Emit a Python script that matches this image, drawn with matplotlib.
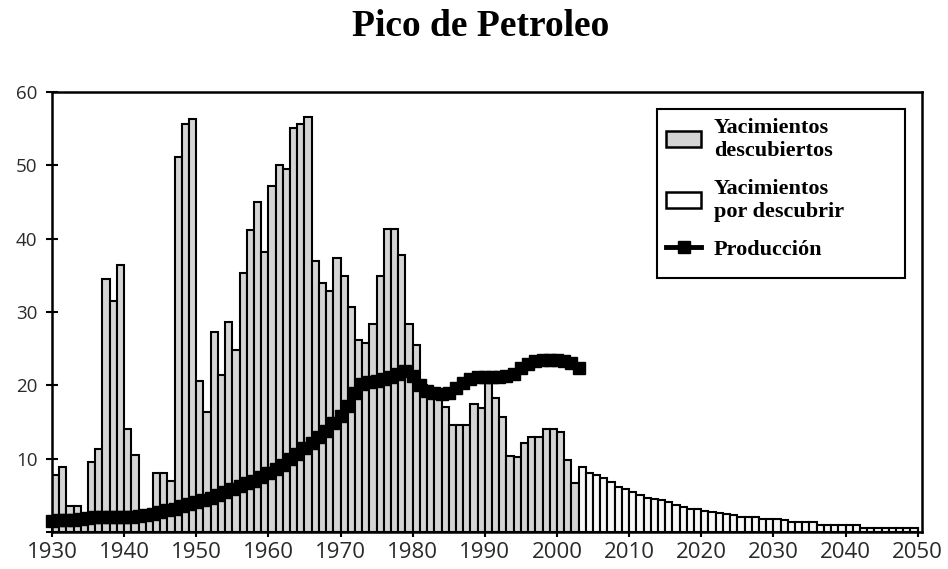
import matplotlib
matplotlib.use("Agg")
import matplotlib.pyplot as plt
from matplotlib.patches import Patch, Rectangle
from matplotlib.lines import Line2D
from matplotlib.transforms import ScaledTranslation

# ---- data ----
disc_years = list(range(1930, 2003))
disc_values = [
    7.8, 8.8, 3.5, 3.5, 2.0, 9.5, 11.3, 34.5, 31.5, 36.4,    # 1930s
    14.0, 10.5, 2.0, 2.0, 8.0, 8.0, 7.0, 51.2, 55.6, 56.3,   # 1940s
    20.6, 16.4, 27.3, 21.4, 28.6, 24.8, 35.3, 41.2, 45.0, 38.2,  # 1950s
    47.2, 50.0, 49.5, 55.1, 55.6, 56.6, 37.0, 34.0, 32.9, 37.4,  # 1960s
    34.9, 30.7, 26.2, 25.8, 28.3, 34.9, 41.3, 41.3, 37.8, 28.3,  # 1970s
    25.5, 20.0, 19.0, 18.5, 17.0, 14.6, 14.6, 14.6, 17.5, 16.9,  # 1980s
    20.3, 18.3, 15.7, 10.3, 10.2, 12.2, 13.0, 13.0, 14.0, 14.0,  # 1990s
    13.7, 9.8, 6.7,                                              # 2000-2002
]
undisc_years = list(range(2003, 2050))
undisc_values = [
    8.8, 8.1, 7.8, 7.4, 6.8, 6.2, 5.8,                      # 2003-2009
    5.4, 5.05, 4.7, 4.45, 4.3, 4.1, 3.7, 3.4, 3.2, 3.1,     # 2010s
    2.9, 2.7, 2.6, 2.4, 2.3, 2.1, 2.0, 2.0, 1.8, 1.75,      # 2020s
    1.75, 1.65, 1.4, 1.4, 1.4, 1.4, 0.95, 0.95, 0.95, 0.95, # 2030s
    0.95, 0.95, 0.5, 0.5, 0.5, 0.5, 0.5, 0.5, 0.5, 0.5,     # 2040s
]
prod_years = list(range(1930, 2004))
prod_values = [
    1.5, 1.6, 1.6, 1.7, 1.8, 1.9, 2.0, 2.0, 2.1, 2.1,
    2.1, 2.1, 2.2, 2.3, 2.5, 2.7, 3.0, 3.2, 3.5, 3.8,
    4.1, 4.4, 4.7, 5.0, 5.4, 5.9, 6.3, 6.7, 7.0, 7.5,
    8.0, 8.6, 9.2, 9.9, 10.6, 11.4, 12.2, 13.0, 13.8, 14.8,
    15.8, 17.2, 19.0, 20.2, 20.5, 20.6, 20.9, 21.2, 21.6, 21.9,
    21.3, 20.0, 19.2, 18.9, 18.8, 18.9, 19.6, 20.3, 20.9, 21.1,
    21.2, 21.2, 21.2, 21.3, 21.6, 22.3, 22.9, 23.3, 23.5, 23.5,
    23.5, 23.3, 23.0, 22.4,
]
x_ticks = list(range(1930, 2051, 10))
y_ticks = [0, 10, 20, 30, 40, 50, 60]
y_ticklabels = ["", "10", "20", "30", "40", "50", "60"]

title = "Pico de Petroleo"
lbl_disc = "Yacimientos\ndescubiertos"
lbl_undisc = "Yacimientos\npor descubrir"
lbl_prod = "Producción"

# ---- style ----
serif = ["Liberation Serif", "DejaVu Serif"]
sans = ["Open Sans", "DejaVu Sans"]
gray_fill = "#d4d4d4"
white_fill = "#f7f7f7"
label_color = "#2a2a2a"

fig = plt.figure(figsize=(9.48, 5.69), dpi=100)
ax = fig.add_axes([52 / 948, 1 - 532 / 569, (922 - 52) / 948, (532 - 92) / 569])

ax.bar(disc_years, disc_values, width=1.0, align="edge", color=gray_fill,
       edgecolor="black", linewidth=1.5, zorder=2)
ax.bar(undisc_years, undisc_values, width=1.0, align="edge", color=white_fill,
       edgecolor="black", linewidth=1.5, zorder=2)
ax.plot(prod_years, prod_values, color="black", linewidth=5, marker="s",
        markersize=8.5, markerfacecolor="black", markeredgecolor="black",
        zorder=3, clip_on=False)

ax.set_xlim(1930, 2050.6)
ax.set_ylim(0, 60)
ax.set_xticks(x_ticks)
ax.set_yticks(y_ticks)
ax.set_yticklabels(y_ticklabels)
for lab in ax.get_xticklabels():
    lab.set_fontfamily(sans)
    lab.set_fontsize(16)
    lab.set_color(label_color)
for lab in ax.get_yticklabels():
    lab.set_fontfamily(sans)
    lab.set_fontsize(13.5)
    lab.set_color(label_color)
# first x label is nudged right in the reference
first = ax.get_xticklabels()[0]
first.set_transform(first.get_transform() + ScaledTranslation(13 / 100, 0, fig.dpi_scale_trans))

ax.tick_params(axis="y", direction="inout", length=9, width=1.5, pad=6)
ax.tick_params(axis="x", direction="inout", length=7, width=1.5, pad=4)
for sp in ax.spines.values():
    sp.set_linewidth(1.8)
    sp.set_color("black")

fig.text(481 / 948, 1 - 27 / 569, title, ha="center", va="center",
         fontfamily=serif, fontweight="bold", fontsize=27)

handles = [
    Patch(facecolor=gray_fill, edgecolor="black", linewidth=1.8),
    Patch(facecolor="white", edgecolor="black", linewidth=1.8),
    Line2D([0], [0], color="black", linewidth=3.5, marker="s", markersize=8),
]
x0 = (657 - 52) / 870
w = (905 - 657) / 870
y0 = (532 - 278) / 440
h = (278 - 109) / 440
box = Rectangle((x0, y0), w, h, transform=ax.transAxes, facecolor="white",
                edgecolor="black", linewidth=1.5, zorder=4)
ax.add_patch(box)
leg = ax.legend(handles, [lbl_disc, lbl_undisc, lbl_prod], loc="upper left",
                bbox_to_anchor=(x0, y0, w, h), mode="expand",
                borderaxespad=0, frameon=False,
                prop={"family": serif, "weight": "bold", "size": 16},
                handlelength=1.6, handleheight=0.7, handletextpad=0.55,
                labelspacing=0.8, borderpad=0.4)
leg.set_zorder(5)

fig.savefig("out.png", dpi=100, facecolor="white")
